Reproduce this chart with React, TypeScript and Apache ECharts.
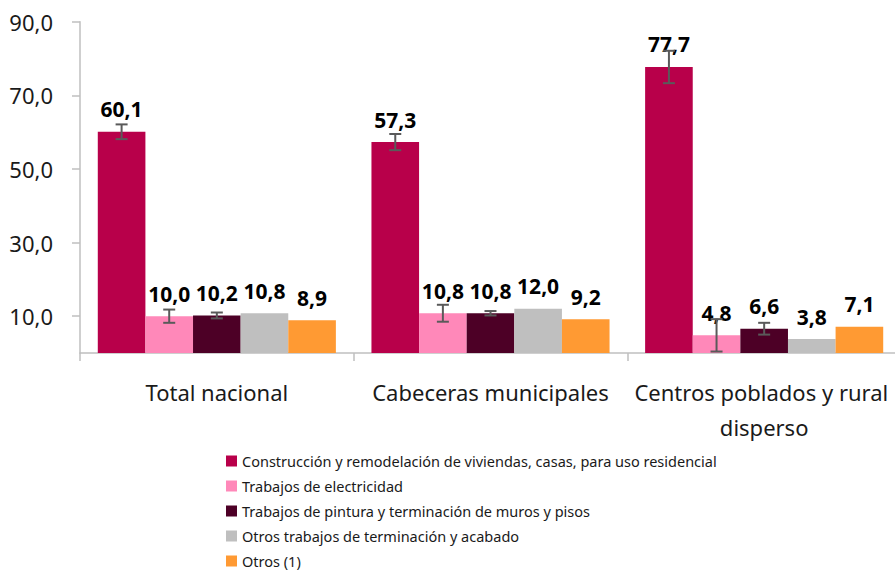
import React, { useEffect, useRef } from "react";
import * as echarts from "echarts";

const categories = ["Total nacional", "Cabeceras municipales", "Centros poblados y rural disperso"];
const seriesNames = [
  "Construcción y remodelación de viviendas, casas, para uso residencial",
  "Trabajos de electricidad",
  "Trabajos de pintura y terminación de muros y pisos",
  "Otros trabajos de terminación y acabado",
  "Otros (1)",
];
const construccion = [60.1, 57.3, 77.7];
const electricidad = [10.0, 10.8, 4.8];
const pintura = [10.2, 10.8, 6.6];
const otrosTrabajos = [10.8, 12.0, 3.8];
const otros = [8.9, 9.2, 7.1];
// half-width of the error bars (null = no error bar drawn)
const errConstruccion = [2.0, 2.2, 4.4];
const errElectricidad = [1.8, 2.3, 4.4];
const errPintura = [0.8, 0.6, 1.6];
const errOtrosTrabajos: (number | null)[] = [null, null, null];
const errOtros: (number | null)[] = [null, null, null];
const yTickValues = [10, 30, 50, 70, 90];

const colors = ["#B8004A", "#FF88B9", "#4D0026", "#BFBFBF", "#FF9A33"];
const FONT = "Noto Sans";
const CAT_GAP = 0.13;

const fmt = (v: number) => v.toFixed(1).replace(".", ",");

export default function App() {
  const ref = useRef<HTMLDivElement>(null);
  useEffect(() => {
    document.body.style.margin = "0";
    const chart = echarts.init(ref.current!, undefined, { renderer: "svg" });
    const values = [construccion, electricidad, pintura, otrosTrabajos, otros];
    const errs = [errConstruccion, errElectricidad, errPintura, errOtrosTrabajos, errOtros];
    const n = values.length;

    const barSeries = values.map((vals, i) => ({
      type: "bar",
      name: seriesNames[i],
      data: vals,
      barGap: "0%",
      barCategoryGap: (CAT_GAP * 100).toFixed(0) + "%",
      itemStyle: { color: colors[i] },
      label: {
        show: true,
        position: "top",
        distance: 12,
        fontFamily: FONT,
        fontWeight: "bold",
        fontSize: 21,
        color: "#000",
        formatter: (p: any) => fmt(p.value),
      },
      z: 2,
    }));

    const errSeries = errs.map((e, idx) => ({
      type: "custom",
      silent: true,
      z: 10,
      encode: { x: 0, y: [1, 2] },
      data: values[idx]
        .map((v, ci) => (e[ci] == null ? null : [ci, v - (e[ci] as number), v + (e[ci] as number)]))
        .filter((d) => d !== null),
      renderItem: (params: any, api: any) => {
        const ci = api.value(0);
        const lo = api.value(1);
        const hi = api.value(2);
        const band = api.size([1, 0])[0];
        const used = band * (1 - CAT_GAP);
        const barW = used / n;
        const cx = api.coord([ci, lo])[0] - used / 2 + barW * (idx + 0.5);
        const yLo = api.coord([ci, lo])[1];
        const yHi = api.coord([ci, hi])[1];
        const style = { stroke: "#5A5A5A", lineWidth: 2 };
        const cap = 6;
        return {
          type: "group",
          children: [
            { type: "line", shape: { x1: cx, y1: yLo, x2: cx, y2: yHi }, style },
            { type: "line", shape: { x1: cx - cap, y1: yHi, x2: cx + cap, y2: yHi }, style },
            { type: "line", shape: { x1: cx - cap, y1: yLo, x2: cx + cap, y2: yLo }, style },
          ],
        };
      },
    }));

    chart.setOption({
      animation: false,
      color: colors,
      grid: { left: 80, right: -6, top: 21.7, bottom: 217, outerBoundsMode: "none", containLabel: false },
      legend: {
        data: seriesNames,
        orient: "vertical",
        left: 226,
        top: 452.5,
        padding: 0,
        icon: "rect",
        itemWidth: 11,
        itemHeight: 11,
        itemGap: 8,
        selectedMode: false,
        textStyle: { fontFamily: FONT, fontSize: 14.5, lineHeight: 17, color: "#1a1a1a" },
      },
      xAxis: {
        type: "category",
        data: categories,
        axisLine: { show: true, lineStyle: { color: "#BFBFBF", width: 1.5 } },
        axisTick: { show: true, length: 8, interval: 0, lineStyle: { color: "#BFBFBF", width: 1.5 } },
        axisLabel: {
          interval: 0,
          margin: 21,
          fontFamily: FONT,
          fontSize: 22,
          lineHeight: 35,
          color: "#1a1a1a",
          width: 265,
          overflow: "break",
        },
      },
      yAxis: {
        type: "value",
        min: 0,
        max: 90,
        interval: 10,
        splitLine: { show: false },
        axisLine: { show: true, lineStyle: { color: "#BFBFBF", width: 1.5 } },
        axisTick: {
          show: true,
          length: 8,
          customValues: yTickValues,
          lineStyle: { color: "#BFBFBF", width: 1.5 },
        },
        axisLabel: {
          customValues: yTickValues,
          margin: 27,
          fontFamily: FONT,
          fontSize: 22,
          color: "#1a1a1a",
          formatter: (v: number) => fmt(v),
        },
      },
      series: [...barSeries, ...errSeries],
    });
    return () => chart.dispose();
  }, []);
  return <div ref={ref} style={{ width: 895, height: 570 }} />;
}
